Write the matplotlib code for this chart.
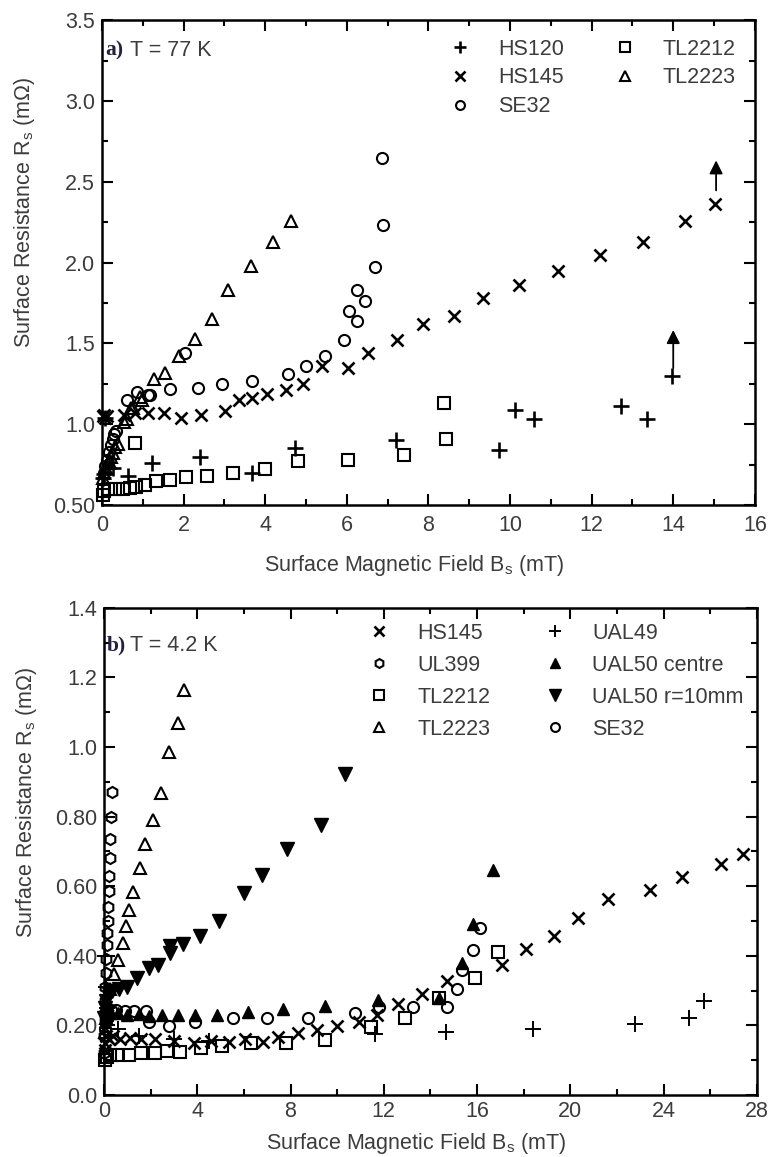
import matplotlib
matplotlib.use("Agg")
import matplotlib.pyplot as plt
from matplotlib.ticker import MultipleLocator

plt.rcParams["font.family"] = ["Liberation Sans", "DejaVu Sans"]
TXT = "#3c3c3c"
FS = 15.5

# ---- panel a: T = 77 K ----
hs120_a_b = [0.03, 0.06, 0.08, 0.14, 0.27, 0.64, 1.23, 2.41, 3.68, 4.73, 7.2, 9.73, 10.11, 10.59, 12.73, 13.35, 13.97]
hs120_a_r = [0.67, 0.69, 1.04, 0.73, 0.73, 0.68, 0.76, 0.80, 0.70, 0.85, 0.90, 0.84, 1.09, 1.03, 1.11, 1.03, 1.30]

hs145_a_b = [0.02, 0.05, 0.08, 0.12, 0.55, 0.8, 1.12, 1.52, 1.94, 2.42, 3.02, 3.36, 3.68, 4.05, 4.5,
             4.93, 5.39, 6.03, 6.53, 7.23, 7.86, 8.62, 9.35, 10.22, 11.17, 12.21, 13.26, 14.29, 15.02]
hs145_a_r = [1.05, 1.06, 1.04, 1.05, 1.06, 1.07, 1.07, 1.07, 1.04, 1.06, 1.08, 1.15, 1.16, 1.19, 1.21,
             1.25, 1.36, 1.35, 1.44, 1.52, 1.62, 1.67, 1.78, 1.86, 1.95, 2.05, 2.13, 2.26, 2.36]

se32_a_b = [0.04, 0.08, 0.12, 0.18, 0.22, 0.26, 0.30, 0.35, 0.61, 0.85, 1.12, 1.17, 1.67, 2.03, 2.35, 2.93,
            3.68, 4.57, 5.01, 5.46, 5.92, 6.06, 6.24, 6.26, 6.45, 6.7, 6.88, 6.86]
se32_a_r = [0.70, 0.74, 0.78, 0.83, 0.87, 0.91, 0.94, 0.96, 1.15, 1.20, 1.18, 1.18, 1.22, 1.44, 1.225, 1.25,
            1.265, 1.31, 1.36, 1.42, 1.52, 1.70, 1.64, 1.83, 1.76, 1.97, 2.23, 2.65]

tl2212_a_b = [0.02, 0.05, 0.16, 0.31, 0.51, 0.68, 0.8, 0.84, 1.05, 1.33, 1.67, 2.07, 2.58, 3.2, 4.0, 4.8, 6.03, 7.41, 8.43, 8.39]
tl2212_a_r = [0.56, 0.585, 0.60, 0.60, 0.60, 0.605, 0.885, 0.61, 0.626, 0.65, 0.652, 0.673, 0.677, 0.70, 0.72, 0.77, 0.78, 0.81, 0.91, 1.13]

tl2223_a_b = [0.03, 0.06, 0.1, 0.14, 0.18, 0.22, 0.26, 0.32, 0.39, 0.55, 0.62, 0.71, 0.76, 0.93, 0.97,
              1.28, 1.55, 1.9, 2.29, 2.69, 3.09, 3.65, 4.19, 4.64]
tl2223_a_r = [0.67, 0.70, 0.73, 0.76, 0.77, 0.80, 0.82, 0.86, 0.88, 1.015, 1.03, 1.10, 1.10, 1.17, 1.15,
              1.28, 1.32, 1.42, 1.53, 1.65, 1.83, 1.98, 2.13, 2.26]

# arrows (x, y_start, y_end)
arrows_a = [(15.05, 2.43, 2.65), (14.0, 1.33, 1.60)]

# ---- panel b: T = 4.2 K ----
hs145_b_b = [0.03, 0.06, 0.1, 0.2, 0.4, 0.7, 1.1, 1.6, 2.19, 3.0, 3.86, 4.6, 5.35, 6.05, 6.8, 7.48, 8.32, 9.15,
             9.99, 10.92, 11.72, 12.63, 13.65, 14.73, 17.05, 18.1, 19.3, 20.35, 21.6, 23.4, 24.8, 26.48, 27.39]
hs145_b_r = [0.13, 0.15, 0.17, 0.16, 0.17, 0.16, 0.165, 0.16, 0.16, 0.155, 0.148, 0.154, 0.151, 0.162, 0.151, 0.167,
             0.178, 0.186, 0.197, 0.21, 0.231, 0.262, 0.289, 0.328, 0.374, 0.419, 0.458, 0.508, 0.563, 0.59, 0.627,
             0.665, 0.694]

ul399_b = [0.02, 0.02, 0.03, 0.04, 0.06, 0.08, 0.10, 0.12, 0.14, 0.16, 0.18, 0.20, 0.22, 0.24, 0.26, 0.29, 0.33]
ul399_r = [0.12, 0.17, 0.22, 0.27, 0.31, 0.35, 0.39, 0.43, 0.465, 0.50, 0.54, 0.585, 0.63, 0.68, 0.735, 0.80, 0.87]

tl2212_b_b = [0.03, 0.11, 0.24, 0.61, 1.08, 1.58, 2.19, 2.71, 3.25, 4.18, 5.07, 6.31, 7.82, 9.49, 11.44, 12.92, 14.35, 15.93, 16.9]
tl2212_b_r = [0.10, 0.109, 0.114, 0.114, 0.116, 0.12, 0.122, 0.127, 0.123, 0.135, 0.141, 0.148, 0.150, 0.157, 0.194,
              0.22, 0.278, 0.336, 0.41]

tl2223_b_b = [0.05, 0.1, 0.15, 0.24, 0.43, 0.61, 0.8, 0.95, 1.08, 1.26, 1.54, 1.76, 2.1, 2.43, 2.79, 3.18, 3.45]
tl2223_b_r = [0.18, 0.22, 0.262, 0.305, 0.347, 0.389, 0.437, 0.485, 0.532, 0.582, 0.652, 0.72, 0.789, 0.869, 0.985, 1.07, 1.165]

ual49_b = [0.04, 0.08, 0.15, 0.25, 0.6, 1.5, 3.0, 4.5, 11.62, 14.67, 18.38, 22.76, 25.1, 25.73]
ual49_r = [0.40, 0.31, 0.25, 0.22, 0.19, 0.17, 0.16, 0.155, 0.176, 0.18, 0.19, 0.204, 0.222, 0.271]

ual50c_b = [0.03, 0.08, 0.15, 0.3, 0.6, 1.0, 1.5, 1.95, 2.47, 3.18, 3.92, 4.84, 6.18, 7.67, 9.49, 11.75, 14.35,
            15.37, 15.84, 16.67]
ual50c_r = [0.21, 0.22, 0.23, 0.235, 0.235, 0.23, 0.232, 0.228, 0.229, 0.229, 0.231, 0.231, 0.239, 0.247, 0.255,
            0.273, 0.278, 0.379, 0.492, 0.647]

ual50r_b = [0.02, 0.05, 0.1, 0.2, 0.35, 0.64, 0.98, 1.41, 1.91, 2.32, 2.84, 2.84, 3.4, 4.1, 4.94, 6.0, 6.78, 7.85, 9.3, 10.32]
ual50r_r = [0.22, 0.25, 0.27, 0.29, 0.30, 0.305, 0.31, 0.337, 0.365, 0.374, 0.408, 0.429, 0.434, 0.458, 0.50, 0.58,
            0.633, 0.707, 0.776, 0.924]

se32_b_b = [0.05, 0.15, 0.3, 0.5, 0.9, 1.3, 1.8, 1.93, 2.79, 3.92, 5.53, 6.98, 8.74, 10.77, 11.81, 13.24, 14.73,
            15.15, 15.37, 15.84, 16.12]
se32_b_r = [0.19, 0.22, 0.245, 0.245, 0.24, 0.24, 0.24, 0.21, 0.197, 0.21, 0.222, 0.222, 0.222, 0.236, 0.252, 0.252,
            0.252, 0.305, 0.358, 0.416, 0.479]

ya_ticks = [0.5, 1.0, 1.5, 2.0, 2.5, 3.0, 3.5]
ya_labels = ["0.50", "1.0", "1.5", "2.0", "2.5", "3.0", "3.5"]
yb_ticks = [0.0, 0.2, 0.4, 0.6, 0.8, 1.0, 1.2, 1.4]
yb_labels = ["0.0", "0.20", "0.40", "0.60", "0.80", "1.0", "1.2", "1.4"]

OPEN = dict(mfc="none", mec="k", mew=1.5, ls="none", clip_on=False)
CROSS = dict(color="k", mew=1.9, ls="none", clip_on=False)
FILL = dict(color="k", ls="none", clip_on=False)

fig = plt.figure(figsize=(7.69, 11.57), dpi=100)
ax1 = fig.add_axes([0.1326, 0.5635, 0.849, 0.419])
ax2 = fig.add_axes([0.1352, 0.0536, 0.849, 0.421])


def style(ax, xmax, xmaj, xmin, ymin, ymax, ymaj, ymnr, yt, yl, xpad, xlab_y, ylab_y):
    ax.set_xlim(0, xmax)
    ax.set_ylim(ymin, ymax)
    ax.xaxis.set_major_locator(MultipleLocator(xmaj))
    ax.xaxis.set_minor_locator(MultipleLocator(xmin))
    ax.set_yticks(yt, yl)
    ax.yaxis.set_minor_locator(MultipleLocator(ymnr))
    ax.tick_params(which="both", direction="in", top=True, right=True, width=1.5,
                   labelsize=FS, labelcolor=TXT)
    ax.tick_params(axis="x", pad=xpad)
    ax.tick_params(axis="y", pad=5)
    ax.tick_params(which="major", length=8)
    ax.tick_params(which="minor", length=4)
    for s in ax.spines.values():
        s.set_linewidth(1.8)
    ax.set_xlabel("Surface Magnetic Field B$_\\mathregular{s}$ (mT)", fontsize=FS, color=TXT)
    ax.set_ylabel("Surface Resistance R$_\\mathregular{s}$ (m\u03a9)", fontsize=FS, color=TXT)
    ax.xaxis.set_label_coords(0.478, xlab_y)
    ax.yaxis.set_label_coords(-0.118, ylab_y)
    ax.xaxis.label.set_va("center")
    ax.yaxis.label.set_va("center")


# panel a
ax1.plot(hs120_a_b, hs120_a_r, "+", ms=11, label="HS120", **CROSS)
ax1.plot(hs145_a_b, hs145_a_r, "x", ms=9, label="HS145", **CROSS)
ax1.plot(se32_a_b, se32_a_r, "o", ms=8, label="SE32", **OPEN)
ax1.plot(tl2212_a_b, tl2212_a_r, "s", ms=8.5, label="TL2212", **OPEN)
ax1.plot(tl2223_a_b, tl2223_a_r, "^", ms=8.5, label="TL2223", **OPEN)
for x, y0, y1 in arrows_a:
    ax1.annotate("", xy=(x, y1), xytext=(x, y0),
                 arrowprops=dict(arrowstyle="-|>", color="k", lw=1.3, mutation_scale=20))
style(ax1, 16, 2, 1, 0.5, 3.5, 0.5, 0.25, ya_ticks, ya_labels, 7, -0.124, 0.604)
ax1.legend(loc="upper left", bbox_to_anchor=(0.516, 0.962), ncol=2, frameon=False, fontsize=FS,
           labelcolor=TXT, handletextpad=0.75, columnspacing=1.85, labelspacing=0.36, markerscale=0.8,
           borderpad=0, borderaxespad=0)
ax1.text(0.005, 0.938, "a)", transform=ax1.transAxes, fontsize=FS, family="Liberation Serif",
         fontweight="bold", color="#262040", va="center")
ax1.text(0.043, 0.938, "T = 77 K", transform=ax1.transAxes, fontsize=FS, color=TXT, va="center")

# panel b
ax2.plot(hs145_b_b, hs145_b_r, "x", ms=9, label="HS145", **CROSS)
ax2.plot(ul399_b, ul399_r, "h", ms=8, label="UL399", **OPEN)
ax2.plot(tl2212_b_b, tl2212_b_r, "s", ms=8.5, label="TL2212", **OPEN)
ax2.plot(tl2223_b_b, tl2223_b_r, "^", ms=8.5, label="TL2223", **OPEN)
ax2.plot(ual49_b, ual49_r, "+", ms=11, label="UAL49", color="k", mew=1.4, ls="none", clip_on=False)
ax2.plot(ual50c_b, ual50c_r, "^", ms=9, label="UAL50 centre", **FILL)
ax2.plot(ual50r_b, ual50r_r, "v", ms=10, label="UAL50 r=10mm", **FILL)
ax2.plot(se32_b_b, se32_b_r, "o", ms=8, label="SE32", **OPEN)
style(ax2, 28, 4, 2, 0.0, 1.4, 0.2, 0.1, yb_ticks, yb_labels, 4, -0.099, 0.6)
ax2.legend(loc="upper left", bbox_to_anchor=(0.389, 0.969), ncol=2, frameon=False, fontsize=FS,
           labelcolor=TXT, handletextpad=0.75, columnspacing=2.0, labelspacing=0.51, markerscale=0.8,
           borderpad=0, borderaxespad=0)
ax2.text(0.005, 0.922, "b)", transform=ax2.transAxes, fontsize=FS, family="Liberation Serif",
         fontweight="bold", color="#262040", va="center")
ax2.text(0.04, 0.922, "T = 4.2 K", transform=ax2.transAxes, fontsize=FS, color=TXT, va="center")

fig.savefig("out.png", dpi=100)
